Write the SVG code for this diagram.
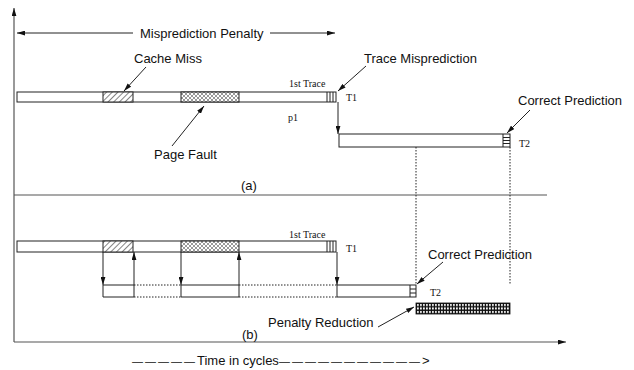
<svg xmlns="http://www.w3.org/2000/svg" width="634" height="370" viewBox="0 0 634 370">
<defs>
<style>
.lbl{font-family:"Liberation Sans",Arial,sans-serif;font-size:13px;fill:#111}
.ser{font-family:"Liberation Serif","Times New Roman",serif;font-size:10px;fill:#111}
.bar{fill:#fff;stroke:#222;stroke-width:1}
.ln{fill:none;stroke:#222;stroke-width:1}
.ax{fill:none;stroke:#555;stroke-width:1.2}
.dot{fill:none;stroke:#222;stroke-width:1;stroke-dasharray:1.5 1.5}
.arr{fill:none;stroke:#222;stroke-width:1;marker-end:url(#ah)}
.dash{font-size:11px;letter-spacing:2px}
</style>
<marker id="ah" viewBox="0 0 10 6" refX="10" refY="3" markerWidth="8" markerHeight="5" orient="auto" markerUnits="userSpaceOnUse">
<path d="M0,0 L10,3 L0,6 z" fill="#111"/>
</marker>
<pattern id="diag" width="4" height="4" patternUnits="userSpaceOnUse" patternTransform="rotate(45)">
<rect width="4" height="4" fill="#fff"/>
<line x1="0" y1="0" x2="0" y2="4" stroke="#333" stroke-width="1.2"/>
</pattern>
<pattern id="cross" width="4" height="4" patternUnits="userSpaceOnUse">
<rect width="4" height="4" fill="#fff"/>
<path d="M0,0 L4,4 M4,0 L0,4" stroke="#555" stroke-width="0.6"/>
</pattern>
<pattern id="grid" width="3" height="3.5" patternUnits="userSpaceOnUse" x="416" y="303">
<rect width="3" height="3.5" fill="#111"/>
<rect x="1" y="1" width="1.8" height="2" fill="#fff"/>
</pattern>
</defs>

<g id="axes">
<line class="ax" x1="14" y1="342" x2="14" y2="8" style="marker-end:url(#ah)"/>
<line class="ax" x1="14" y1="342" x2="566" y2="342" style="marker-end:url(#ah)"/>
<line class="ax" x1="14" y1="195" x2="547" y2="195"/>
</g>

<g id="penalty-label">
<text class="lbl" x="140" y="38">Misprediction Penalty</text>
</g>

<g id="bar-a1">
<rect class="bar" x="17" y="92" width="319" height="10"/>
<rect x="103" y="92" width="30" height="10" fill="url(#diag)" stroke="#222"/>
<rect x="181" y="92" width="58" height="10" fill="url(#cross)" stroke="#222"/>
<path class="ln" d="M327,92 V102 M330,92 V102 M333,92 V102"/>
<text class="ser" x="289" y="87">1st Trace</text>
<text class="ser" x="346" y="101">T1</text>
<text class="ser" x="288" y="121">p1</text>
</g>

<g id="bar-a2">
<rect class="bar" x="339" y="134" width="171" height="13"/>
<path class="ln" d="M503,134 V147 M503,137.5 H510 M503,140.5 H510 M503,143.5 H510"/>
<text class="ser" x="519" y="147">T2</text>
</g>

<g id="cache-miss"><text class="lbl" x="134" y="63">Cache Miss</text></g>
<g id="page-fault"><text class="lbl" x="154" y="159">Page Fault</text></g>
<g id="trace-mispred"><text class="lbl" x="364" y="63">Trace Misprediction</text></g>
<g id="correct-a"><text class="lbl" x="518" y="105">Correct Prediction</text></g>
<g id="label-a"><text class="lbl" x="241" y="190">(a)</text></g>

<g id="bar-b1">
<rect class="bar" x="17" y="241" width="319" height="11"/>
<rect x="103" y="241" width="30" height="11" fill="url(#diag)" stroke="#222"/>
<rect x="181" y="241" width="58" height="11" fill="url(#cross)" stroke="#222"/>
<path class="ln" d="M327,241 V252 M330,241 V252 M333,241 V252"/>
<text class="ser" x="289" y="238">1st Trace</text>
<text class="ser" x="346" y="252">T1</text>
</g>

<g id="bar-b2">
<path class="ln" d="M134,285 H103 V297 H134"/>
<path class="dot" d="M134,285 H181 M134,297 H181"/>
<path class="ln" d="M181,285 V297 M181,285 H239 M181,297 H239"/>
<path class="dot" d="M239,285 H337 M239,297 H337"/>
<rect class="bar" x="337" y="285" width="79" height="12"/>
<path class="ln" d="M410,285 V297 M410,289 H416 M410,293 H416"/>
<text class="ser" x="430" y="296">T2</text>
</g>

<g id="penalty-grid">
<rect x="416" y="303" width="94" height="11" fill="url(#grid)" stroke="#111" stroke-width="0.8"/>
</g>

<g id="correct-b"><text class="lbl" x="428" y="259">Correct Prediction</text></g>
<g id="penalty-reduction"><text class="lbl" x="268" y="327">Penalty Reduction</text></g>
<g id="label-b"><text class="lbl" x="242" y="339">(b)</text></g>
<g id="time-label"><text class="lbl" x="132" y="365"><tspan class="dash">—————</tspan>Time in cycles<tspan class="dash">———————————</tspan>&gt;</text></g>

<g id="connectors">
<line class="arr" x1="133" y1="33" x2="17" y2="33"/>
<line class="arr" x1="270" y1="33" x2="335" y2="33"/>
<line class="arr" x1="146" y1="67" x2="124" y2="91"/>
<line class="arr" x1="172" y1="146" x2="204" y2="106"/>
<line class="arr" x1="366" y1="66" x2="338" y2="91"/>
<line class="arr" x1="338" y1="102" x2="338" y2="134"/>
<line class="arr" x1="530" y1="110" x2="507" y2="133"/>
<line class="dot" x1="416" y1="147" x2="416" y2="285"/>
<line class="dot" x1="510" y1="147" x2="510" y2="285"/>
<line class="arr" x1="103" y1="252" x2="103" y2="285"/>
<line class="arr" x1="134" y1="297" x2="134" y2="252"/>
<line class="arr" x1="181" y1="252" x2="181" y2="285"/>
<line class="arr" x1="239" y1="297" x2="239" y2="252"/>
<line class="arr" x1="337" y1="252" x2="337" y2="285"/>
<line class="arr" x1="443" y1="262" x2="417" y2="284"/>
<line class="arr" x1="378" y1="327" x2="414" y2="307"/>
</g>
</svg>
